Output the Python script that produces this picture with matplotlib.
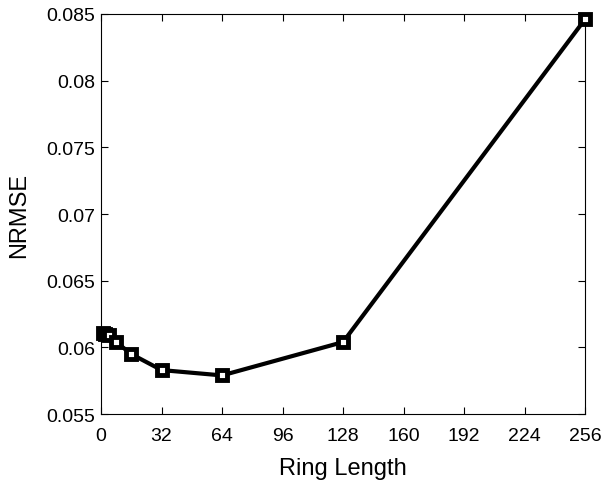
import matplotlib
matplotlib.use("Agg")
import matplotlib.pyplot as plt

ring_length = [1, 2, 4, 8, 16, 32, 64, 128, 256]
nrmse = [0.0611, 0.0610, 0.0609, 0.0604, 0.0595, 0.0583, 0.0579, 0.0604, 0.0846]
xticks = [0, 32, 64, 96, 128, 160, 192, 224, 256]
yticks = [0.055, 0.06, 0.065, 0.07, 0.075, 0.08, 0.085]
yticklabels = ["0.055", "0.06", "0.065", "0.07", "0.075", "0.08", "0.085"]

plt.rcParams['font.family'] = ['Liberation Sans', 'DejaVu Sans']
fig = plt.figure(figsize=(6.05, 4.81), dpi=100)
ax = fig.add_axes([0.167, 0.137, 0.800, 0.832])
ax.plot(ring_length, nrmse, color='black', lw=3, marker='s', ms=7,
        mfc='white', mec='black', mew=3.5, clip_on=False, zorder=3)
ax.set_xlim(0, 256)
ax.set_ylim(0.055, 0.085)
ax.set_xticks(xticks)
ax.set_yticks(yticks)
ax.set_yticklabels(yticklabels)
ax.tick_params(direction='in', top=True, right=True, length=5, width=0.8,
               labelsize=14)
ax.tick_params(axis='x', pad=9)
ax.tick_params(axis='y', pad=4)
for s in ax.spines.values():
    s.set_linewidth(0.8)
ax.set_xlabel('Ring Length', fontsize=17, labelpad=10)
ax.set_ylabel('NRMSE', fontsize=17, labelpad=12)
fig.savefig('out.png', dpi=100)
